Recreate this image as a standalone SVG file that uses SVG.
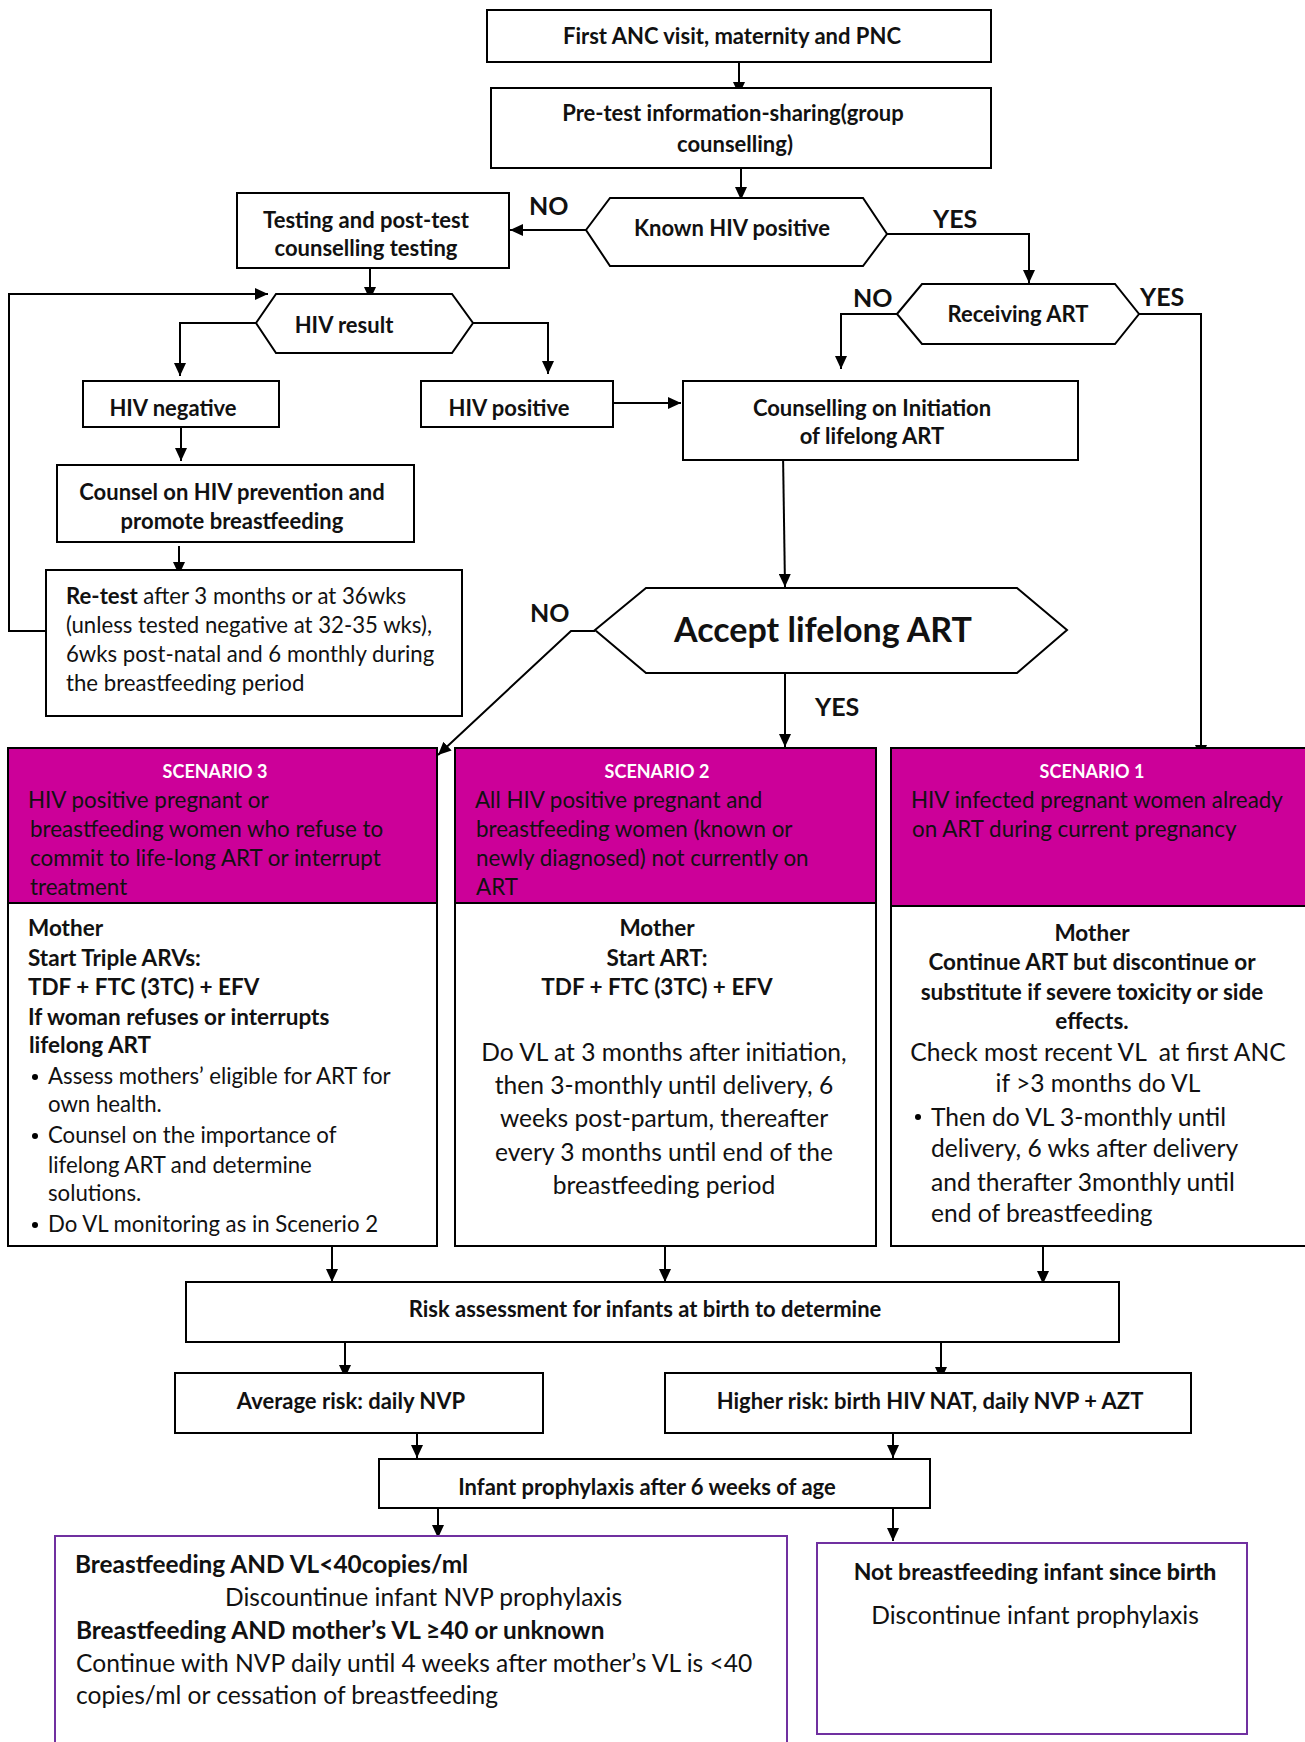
<svg xmlns="http://www.w3.org/2000/svg" width="1305" height="1742" viewBox="0 0 1305 1742">
<style>
.box{fill:#fff;stroke:#000;stroke-width:2}
.pbox{fill:#fff;stroke:#7030A0;stroke-width:2}
.mag{fill:#CC0099;stroke:#000;stroke-width:2}
.con{fill:none;stroke:#000;stroke-width:2}
text{font-family:Lato,"Liberation Sans",sans-serif;fill:#111}
.b{font-weight:bold;font-size:22px}
.c{text-anchor:middle}
.lbl{font-weight:bold;font-size:25px}
.hd{font-weight:bold;font-size:18px;fill:#fff;text-anchor:middle}
.r21{font-size:22.4px}
.r20{font-size:22.2px}
.r22{font-size:24.6px}
.b20{font-weight:bold;font-size:22.5px}
</style>
<defs>
<marker id="ah" markerUnits="userSpaceOnUse" markerWidth="14" markerHeight="12" refX="13" refY="6" orient="auto">
<path d="M0,0 L13,6 L0,12 z" fill="#000"/>
</marker>
</defs>

<g id="connectors">
<path class="con" d="M739,62 V95" marker-end="url(#ah)"/>
<path class="con" d="M741,168 V200" marker-end="url(#ah)"/>
<path class="con" d="M586,230 H510" marker-end="url(#ah)"/>
<path class="con" d="M887,234 H1029 V283" marker-end="url(#ah)"/>
<path class="con" d="M370,268 V300" marker-end="url(#ah)"/>
<path class="con" d="M46,631 H9 V294 H268" marker-end="url(#ah)"/>
<path class="con" d="M256,323 H180 V376" marker-end="url(#ah)"/>
<path class="con" d="M473,323 H548 V374" marker-end="url(#ah)"/>
<path class="con" d="M613,403 H681" marker-end="url(#ah)"/>
<path class="con" d="M897,314 H841 V369" marker-end="url(#ah)"/>
<path class="con" d="M1139,314 H1201 V758" marker-end="url(#ah)"/>
<path class="con" d="M181,427 V461" marker-end="url(#ah)"/>
<path class="con" d="M179,546 V575" marker-end="url(#ah)"/>
<path class="con" d="M783,453 L785,587" marker-end="url(#ah)"/>
<path class="con" d="M785,673 V747" marker-end="url(#ah)"/>
<path class="con" d="M595,631 H571 L438,755" marker-end="url(#ah)"/>
<path class="con" d="M332,1246 V1282" marker-end="url(#ah)"/>
<path class="con" d="M665,1246 V1282" marker-end="url(#ah)"/>
<path class="con" d="M1043,1246 V1284" marker-end="url(#ah)"/>
<path class="con" d="M345,1339 V1378" marker-end="url(#ah)"/>
<path class="con" d="M941,1342 V1380" marker-end="url(#ah)"/>
<path class="con" d="M417,1433 V1458" marker-end="url(#ah)"/>
<path class="con" d="M893,1433 V1458" marker-end="url(#ah)"/>
<path class="con" d="M438,1507 V1538" marker-end="url(#ah)"/>
<path class="con" d="M893,1507 V1541" marker-end="url(#ah)"/>
<text class="lbl" x="529" y="215">NO</text>
<text class="lbl" x="933" y="228">YES</text>
<text class="lbl" x="853" y="307">NO</text>
<text class="lbl" x="1140" y="306">YES</text>
<text class="lbl" x="530" y="622">NO</text>
<text class="lbl" x="815" y="716">YES</text>
</g>

<g id="n-first-anc">
<rect class="box" x="487" y="10" width="504" height="52"/>
<text class="b c" x="732" y="44">First ANC visit, maternity and PNC</text>
</g>
<g id="n-pretest">
<rect class="box" x="491" y="88" width="500" height="80"/>
<text class="b c" x="733" y="121">Pre-test information-sharing(group</text>
<text class="b c" x="735" y="152">counselling)</text>
</g>
<g id="n-known">
<polygon class="box" points="586,230 610,198 863,198 887,234 863,266 610,266"/>
<text class="b c" x="732" y="236">Known HIV positive</text>
</g>
<g id="n-testing">
<rect class="box" x="237" y="193" width="272" height="75"/>
<text class="b c" x="366" y="228">Testing and post-test</text>
<text class="b c" x="366" y="256">counselling testing</text>
</g>
<g id="n-hivresult">
<polygon class="box" points="256,323 276,294 452,294 473,323 452,353 276,353"/>
<text class="b c" x="344" y="333">HIV result</text>
</g>
<g id="n-receiving">
<polygon class="box" points="897,314 922,284 1115,284 1139,314 1115,344 922,344"/>
<text class="b c" x="1018" y="322">Receiving ART</text>
</g>
<g id="n-hivneg">
<rect class="box" x="83" y="381" width="196" height="46"/>
<text class="b c" x="173" y="416">HIV negative</text>
</g>
<g id="n-hivpos">
<rect class="box" x="421" y="381" width="192" height="46"/>
<text class="b c" x="509" y="416">HIV positive</text>
</g>
<g id="n-counselling">
<rect class="box" x="683" y="381" width="395" height="79"/>
<text class="b c" x="872" y="416">Counselling on Initiation</text>
<text class="b c" x="872" y="444">of lifelong ART</text>
</g>
<g id="n-counsel-prev">
<rect class="box" x="57" y="465" width="357" height="77"/>
<text class="b c" x="232" y="500">Counsel on HIV prevention and</text>
<text class="b c" x="232" y="529">promote breastfeeding</text>
</g>
<g id="n-retest">
<rect class="box" x="46" y="570" width="416" height="146"/>
<text class="r20" x="66" y="604"><tspan font-weight="bold">Re-test</tspan> after 3 months or at 36wks</text>
<text class="r20" x="66" y="633">(unless tested negative at 32-35 wks),</text>
<text class="r20" x="66" y="662">6wks post-natal and 6 monthly during</text>
<text class="r20" x="66" y="691">the breastfeeding period</text>
</g>
<g id="n-accept">
<polygon class="box" points="595,630 646,588 1017,588 1067,630 1017,673 646,673"/>
<text class="c" x="823" y="642" font-weight="bold" font-size="34">Accept lifelong ART</text>
</g>

<g id="n-scenario3">
<rect class="box" x="8" y="748" width="429" height="498"/>
<rect class="mag" x="8" y="748" width="429" height="155"/>
<text class="hd" x="215" y="778">SCENARIO 3</text>
<text class="r21" x="28" y="808">HIV positive pregnant or</text>
<text class="r21" x="30" y="837">breastfeeding women who refuse to</text>
<text class="r21" x="30" y="866">commit to life-long ART or interrupt</text>
<text class="r21" x="30" y="895">treatment</text>
<text class="b20" x="28" y="936">Mother</text>
<text class="b20" x="28" y="966">Start Triple ARVs:</text>
<text class="b20" x="28" y="995">TDF + FTC (3TC) + EFV</text>
<text class="b20" x="28" y="1025">If woman refuses or interrupts</text>
<text class="b20" x="29" y="1053">lifelong ART</text>
<circle cx="35" cy="1077" r="3"/>
<text class="r20" x="48" y="1084">Assess mothers’ eligible for ART for</text>
<text class="r20" x="48" y="1112">own health.</text>
<circle cx="35" cy="1136" r="3"/>
<text class="r20" x="48" y="1143">Counsel on the importance of</text>
<text class="r20" x="48" y="1173">lifelong ART and determine</text>
<text class="r20" x="48" y="1201">solutions.</text>
<circle cx="35" cy="1225" r="3"/>
<text class="r20" x="48" y="1232">Do VL monitoring as in Scenerio 2</text>
</g>

<g id="n-scenario2">
<rect class="box" x="455" y="748" width="421" height="498"/>
<rect class="mag" x="455" y="748" width="421" height="155"/>
<text class="hd" x="657" y="778">SCENARIO 2</text>
<text class="r21" x="475" y="808">All HIV positive pregnant and</text>
<text class="r21" x="476" y="837">breastfeeding women (known or</text>
<text class="r21" x="476" y="866">newly diagnosed) not currently on</text>
<text class="r21" x="476" y="895">ART</text>
<text class="b20 c" x="657" y="936">Mother</text>
<text class="b20 c" x="657" y="966">Start ART:</text>
<text class="b20 c" x="657" y="995">TDF + FTC (3TC) + EFV</text>
<text class="r22 c" x="664" y="1061">Do VL at 3 months after initiation,</text>
<text class="r22 c" x="664" y="1094">then 3-monthly until delivery, 6</text>
<text class="r22 c" x="664" y="1127">weeks post-partum, thereafter</text>
<text class="r22 c" x="664" y="1161">every 3 months until end of the</text>
<text class="r22 c" x="664" y="1194">breastfeeding period</text>
</g>

<g id="n-scenario1">
<rect class="box" x="891" y="748" width="420" height="498"/>
<rect class="mag" x="891" y="748" width="420" height="158"/>
<text class="hd" x="1092" y="778">SCENARIO 1</text>
<text class="r21" x="911" y="808">HIV infected pregnant women already</text>
<text class="r21" x="912" y="837">on ART during current pregnancy</text>
<text class="b20 c" x="1092" y="941">Mother</text>
<text class="b20 c" x="1092" y="970">Continue ART but discontinue or</text>
<text class="b20 c" x="1092" y="1000">substitute if severe toxicity or side</text>
<text class="b20 c" x="1092" y="1029">effects.</text>
<text class="r22 c" x="1098" y="1061">Check most recent VL&#160; at first ANC</text>
<text class="r22 c" x="1098" y="1092">if &gt;3 months do VL</text>
<circle cx="918" cy="1117" r="3"/>
<text class="r22" x="931" y="1126">Then do VL 3-monthly until</text>
<text class="r22" x="931" y="1157">delivery, 6 wks after delivery</text>
<text class="r22" x="931" y="1191">and therafter 3monthly until</text>
<text class="r22" x="931" y="1222">end of breastfeeding</text>
</g>

<g id="n-risk">
<rect class="box" x="186" y="1282" width="933" height="60"/>
<text class="b c" x="645" y="1317">Risk assessment for infants at birth to determine</text>
</g>
<g id="n-average">
<rect class="box" x="175" y="1373" width="368" height="60"/>
<text class="b c" x="351" y="1409">Average risk: daily NVP</text>
</g>
<g id="n-higher">
<rect class="box" x="665" y="1373" width="526" height="60"/>
<text class="b c" x="930" y="1409">Higher risk: birth HIV NAT, daily NVP + AZT</text>
</g>
<g id="n-infant">
<rect class="box" x="379" y="1459" width="551" height="49"/>
<text class="b c" x="647" y="1495">Infant prophylaxis after 6 weeks of age</text>
</g>
<g id="n-bf">
<rect class="pbox" x="55" y="1536" width="732" height="220"/>
<text x="75" y="1573" font-weight="bold" font-size="24.4">Breastfeeding AND VL&lt;40copies/ml</text>
<text class="r22" x="225" y="1606">Discountinue infant NVP prophylaxis</text>
<text x="76" y="1639" font-weight="bold" font-size="24.4">Breastfeeding AND mother’s VL ≥40 or unknown</text>
<text class="r22" x="76" y="1672">Continue with NVP daily until 4 weeks after mother’s VL is &lt;40</text>
<text class="r22" x="76" y="1704">copies/ml or cessation of breastfeeding</text>
</g>
<g id="n-notbf">
<rect class="pbox" x="817" y="1543" width="430" height="191"/>
<text class="c" x="1035" y="1580" font-weight="bold" font-size="23">Not breastfeeding infant <tspan font-weight="900">since birth</tspan></text>
<text class="r22 c" x="1035" y="1624">Discontinue infant prophylaxis</text>
</g>
</svg>
